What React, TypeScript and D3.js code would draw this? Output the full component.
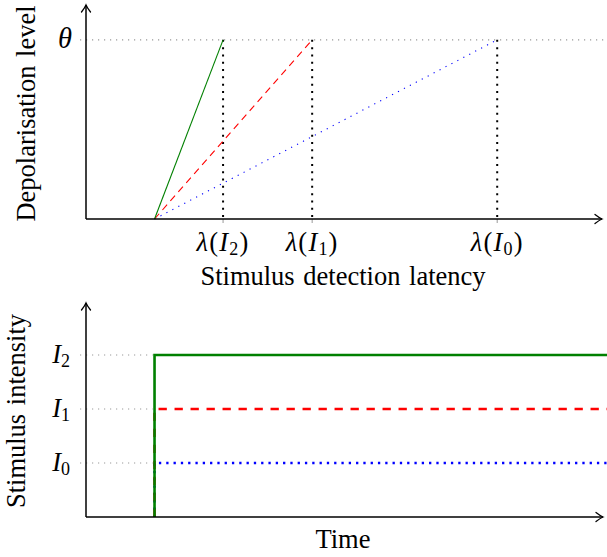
import React from 'react';
import * as d3 from 'd3';

// stimulus onset and run end (arbitrary time units)
const onset = 1;
const timeEnd = 7.65;
// order: I0, I1, I2
const latencies = [6, 3.3, 2];
const intensities = [1, 2, 3];
const subscripts = ['0', '1', '2'];
const colors = ['#0000ff', '#ff0000', '#008000'];
const threshold = 1;

const W = 607;
const H = 557;
const font = '"Liberation Serif", "Times New Roman", serif';
const fs = 26.5;
const sub = 18;

export default function App() {
  const x = d3.scaleLinear().domain([0, 7.5]).range([86, 600]);
  const yTop = d3.scaleLinear().domain([0, 1.2]).range([219, 4]);
  const yBot = d3.scaleLinear().domain([0, 4]).range([517, 301]);
  const line = d3.line<[number, number]>();

  const topDash = ['1.2 5.5', '7 5', null];
  const botDash = ['2.3 5', '8.3 7.7', null];

  return (
    <svg width={W} height={H} style={{ position: 'absolute', left: 0, top: 0 }} fontFamily={font}>
      <defs>
        <marker id="arr" viewBox="-8 -6 10 12" refX={0} refY={0} markerWidth={10} markerHeight={12}
          markerUnits="userSpaceOnUse" orient="auto">
          <path d="M-7,-4.5 Q-2.5,-1 0,0 Q-2.5,1 -7,4.5" fill="none" stroke="#000" strokeWidth={1.3}
            strokeLinecap="round" />
        </marker>
      </defs>

      {/* ---------- top panel ---------- */}
      <line x1={x(0) - 6} x2={x(7.5) + 4} y1={yTop(threshold)} y2={yTop(threshold)}
        stroke="#999" strokeWidth={1.2} strokeDasharray="1.2 4.8" />
      {latencies.map((l, i) => (
        <g key={'v' + i}>
          <line x1={x(l)} x2={x(l)} y1={yTop(threshold)} y2={yTop(0)} stroke="#000" strokeWidth={2}
            strokeDasharray="2 5.3" />
          <line x1={x(l)} x2={x(l)} y1={yTop(0)} y2={yTop(0) + 4} stroke="#999" strokeWidth={1} />
        </g>
      ))}
      {latencies.map((l, i) => (
        <path key={'s' + i} d={line([[x(onset), yTop(0)], [x(l), yTop(threshold)]]) || ''}
          fill="none" stroke={colors[i]} strokeWidth={1.1} strokeDasharray={topDash[i] || undefined} />
      ))}
      <line x1={x(0)} x2={x(0)} y1={yTop(0)} y2={yTop(1.2) + 1} stroke="#000" strokeWidth={1.5} markerEnd="url(#arr)" />
      <line x1={x(0)} x2={x(7.5) + 2} y1={yTop(0)} y2={yTop(0)} stroke="#000" strokeWidth={1.5} markerEnd="url(#arr)" />

      <text x={x(0) - 14} y={yTop(threshold) + 8} textAnchor="end" fontSize={fs + 2} fontStyle="italic">θ</text>
      {latencies.map((l, i) => (
        <text key={'t' + i} x={x(l)} y={yTop(0) + 32} textAnchor="middle" fontSize={fs} letterSpacing={1.2}>
          <tspan fontStyle="italic">λ</tspan>(<tspan fontStyle="italic">I</tspan>
          <tspan fontSize={sub} dy={4}>{subscripts[i]}</tspan>
          <tspan dy={-4}>)</tspan>
        </text>
      ))}
      <text x={(x(0) + x(7.5)) / 2} y={285} textAnchor="middle" fontSize={fs} wordSpacing={2}>
        Stimulus detection latency
      </text>
      <text transform={`translate(35,${(yTop(0) + yTop(1.2)) / 2 + 2}) rotate(-90)`} textAnchor="middle"
        fontSize={fs} wordSpacing={2}>
        Depolarisation level
      </text>

      {/* ---------- bottom panel ---------- */}
      {intensities.map((v, i) => (
        <line key={'g' + i} x1={x(0) - 6} x2={x(onset) - 2} y1={yBot(v)} y2={yBot(v)}
          stroke="#999" strokeWidth={1.2} strokeDasharray="1.2 4.8" />
      ))}
      {intensities.map((v, i) => (
        <path key={'b' + i}
          d={line([[x(onset), yBot(0)], [x(onset), yBot(v)], [x(timeEnd), yBot(v)]]) || ''}
          fill="none" stroke={colors[i]} strokeWidth={2.6} strokeDasharray={botDash[i] || undefined} />
      ))}
      <line x1={x(0)} x2={x(0)} y1={yBot(0)} y2={yBot(4) + 2} stroke="#000" strokeWidth={1.5} markerEnd="url(#arr)" />
      <line x1={x(0)} x2={x(7.5) + 3} y1={yBot(0)} y2={yBot(0)} stroke="#000" strokeWidth={1.5} markerEnd="url(#arr)" />

      {intensities.map((v, i) => (
        <text key={'l' + i} x={x(0) - 16} y={yBot(v) + 8} textAnchor="end" fontSize={fs}>
          <tspan fontStyle="italic">I</tspan>
          <tspan fontSize={sub} dy={4}>{subscripts[i]}</tspan>
        </text>
      ))}
      <text x={(x(0) + x(7.5)) / 2} y={548} textAnchor="middle" fontSize={fs}>Time</text>
      <text transform={`translate(25,${yBot(2) + 2}) rotate(-90)`} textAnchor="middle" fontSize={fs}
        wordSpacing={2}>
        Stimulus intensity
      </text>
    </svg>
  );
}
